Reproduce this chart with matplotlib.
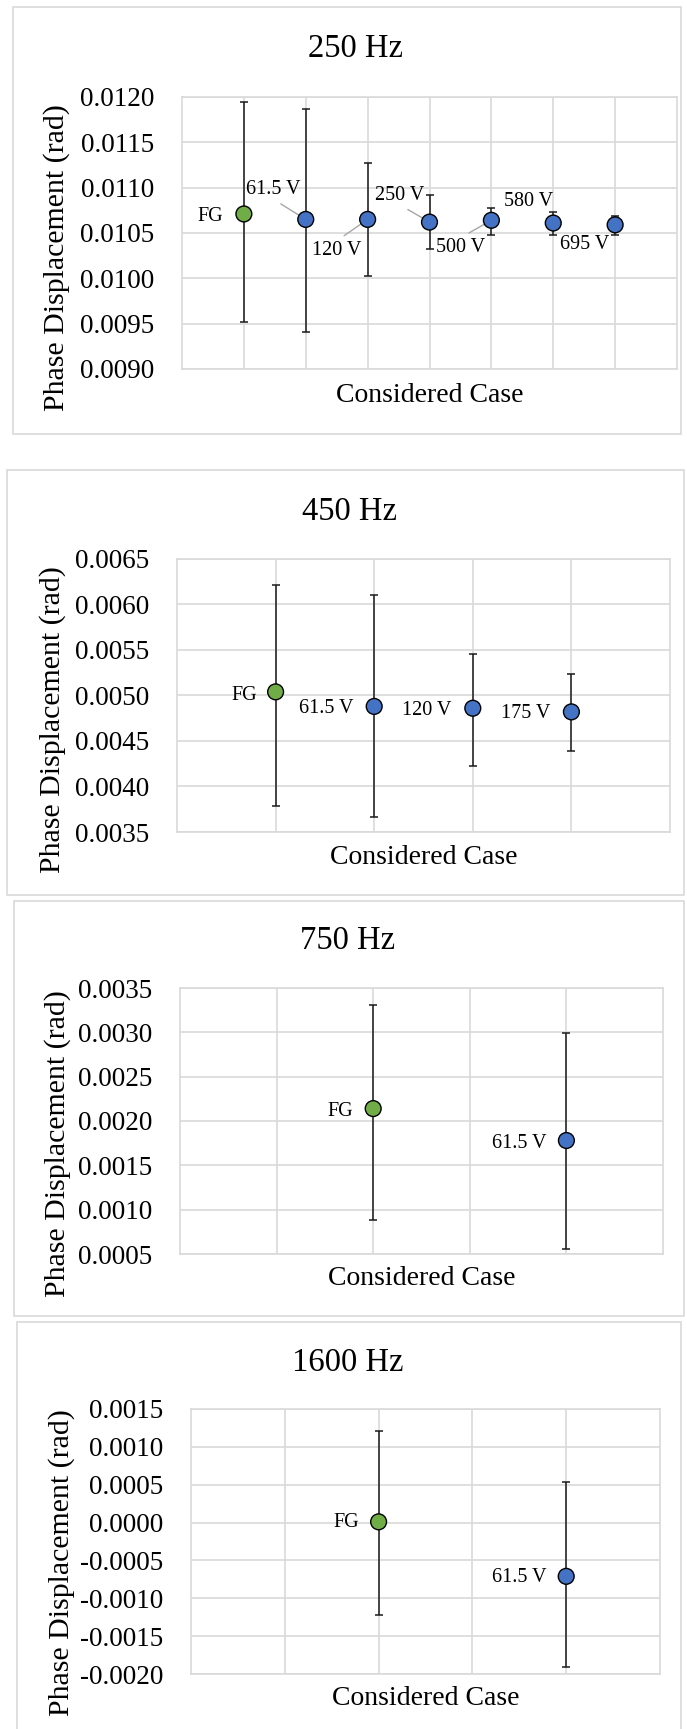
import numpy as np
import matplotlib.pyplot as plt
from matplotlib.patches import Rectangle
from matplotlib.ticker import FuncFormatter, MultipleLocator

plt.rcParams['font.family'] = ['Liberation Serif', 'DejaVu Serif']
plt.rcParams['axes.unicode_minus'] = False

C_GREEN = '#70AD47'
C_BLUE = '#4472C4'
C_GRID = '#D9D9D9'
C_LEADER = '#A6A6A6'

W, H = 687, 1729

# ===== 数据 =====
# 250 Hz
labels_250 = ['FG', '61.5 V', '120 V', '250 V', '500 V', '580 V', '695 V']
mean_250 = [0.01071, 0.01065, 0.01065, 0.01062, 0.01064, 0.01061, 0.01059]
upper_250 = [0.01194, 0.01187, 0.01127, 0.01092, 0.01078, 0.01073, 0.01069]
lower_250 = [0.00952, 0.00941, 0.01003, 0.01032, 0.01048, 0.01048, 0.01048]

# 450 Hz
labels_450 = ['FG', '61.5 V', '120 V', '175 V']
mean_450 = [0.00504, 0.00488, 0.00486, 0.00482]
upper_450 = [0.00621, 0.00610, 0.00546, 0.00524]
lower_450 = [0.00379, 0.00367, 0.00422, 0.00439]

# 750 Hz
labels_750 = ['FG', '61.5 V']
mean_750 = [0.00214, 0.00178]
upper_750 = [0.00331, 0.00299]
lower_750 = [0.00088, 0.00056]

# 1600 Hz
labels_1600 = ['FG', '61.5 V']
mean_1600 = [0.00001, -0.00071]
upper_1600 = [0.00121, 0.00053]
lower_1600 = [-0.00122, -0.00191]


def fx(x):
    return x / W


def fy(y):
    return 1 - y / H


fig = plt.figure(figsize=(W / 100, H / 100), dpi=100)

# 每个面板的版式（像素）
panels = [
    dict(title='250 Hz', labels=labels_250, mean=mean_250, up=upper_250, lo=lower_250,
         xs=list(range(1, 8)), xmax=8, ylim=(0.0090, 0.0120), step=0.0005,
         box=(13, 7, 681, 434), ax=(182, 97, 677, 369),
         title_xy=(355, 57), xlab_y=402, ylab_xy=(57, 258),
         # (dx, dy, ha, va, leader relpos or None)
         lab=[(-21, -3, 'right', 'center', None),
              (-33, 30, 'center', 'center', (0.5, 0)),
              (-31, -31, 'center', 'center', (0.5, 1)),
              (-30, 27, 'center', 'center', (0.5, 0)),
              (-31, -27, 'center', 'center', (0.5, 1)),
              (-25, 22, 'center', 'center', None),
              (-31, -20, 'center', 'center', None)]),
    dict(title='450 Hz', labels=labels_450, mean=mean_450, up=upper_450, lo=lower_450,
         xs=[1, 2, 3, 4], xmax=5, ylim=(0.0035, 0.0065), step=0.0005,
         box=(7, 470, 684, 895), ax=(177, 559, 670, 832),
         title_xy=(349, 520), xlab_y=864, ylab_xy=(53, 720),
         lab=[(-19, -4, 'right', 'center', None)] + [(-21, -2, 'right', 'center', None)] * 3),
    dict(title='750 Hz', labels=labels_750, mean=mean_750, up=upper_750, lo=lower_750,
         xs=[2, 4], xmax=5, ylim=(0.0005, 0.0035), step=0.0005,
         box=(14, 901, 684, 1316), ax=(180, 988, 663, 1254),
         title_xy=(348, 949), xlab_y=1285, ylab_xy=(58, 1144),
         lab=[(-20, -3, 'right', 'center', None)] * 2),
    dict(title='1600 Hz', labels=labels_1600, mean=mean_1600, up=upper_1600, lo=lower_1600,
         xs=[2, 4], xmax=5, ylim=(-0.0020, 0.0015), step=0.0005,
         box=(17, 1322, 681, 1745), ax=(191, 1409, 660, 1674),
         title_xy=(348, 1371), xlab_y=1705, ylab_xy=(62, 1563),
         lab=[(-20, -1, 'right', 'center', None)] * 2),
]


def fmt(v, pos):
    s = f'{v:.4f}'
    return '0.0000' if s == '-0.0000' else s


for p in panels:
    # 外框
    x0, y0, x1, y1 = p['box']
    fig.patches.append(Rectangle((fx(x0), fy(y1)), fx(x1) - fx(x0), fy(y0) - fy(y1),
                                 transform=fig.transFigure, fill=False,
                                 edgecolor=C_GRID, linewidth=1.2))
    a0, b0, a1, b1 = p['ax']
    ax = fig.add_axes([fx(a0), fy(b1), fx(a1) - fx(a0), fy(b0) - fy(b1)])
    ax.set_xlim(0, p['xmax'])
    ax.set_ylim(*p['ylim'])
    ax.set_xticks(range(1, p['xmax']))
    ax.yaxis.set_major_locator(MultipleLocator(p['step']))
    ax.yaxis.set_major_formatter(FuncFormatter(fmt))
    ax.tick_params(axis='x', length=0, labelbottom=False)
    ax.tick_params(axis='y', length=0, pad=20, labelsize=19.5, labelcolor='black')
    ax.grid(True, color=C_GRID, linewidth=1.2)
    ax.set_axisbelow(True)
    for sp in ax.spines.values():
        sp.set_color(C_GRID)
        sp.set_linewidth(1.2)

    xs = np.array(p['xs'])
    m = np.array(p['mean'])
    up = np.array(p['up'])
    lo = np.array(p['lo'])
    ax.errorbar(xs, m, yerr=[m - lo, up - m], fmt='none', ecolor='#1a1a1a',
                elinewidth=1.1, capsize=2.8, capthick=1.1, zorder=3)
    colors = [C_GREEN] + [C_BLUE] * (len(xs) - 1)
    ax.scatter(xs, m, s=130, c=colors, edgecolors='black', linewidths=1.0, zorder=5)

    for i, txt in enumerate(p['labels']):
        dx, dy, ha, va, rel = p['lab'][i]
        kw = {}
        if rel is not None:
            kw['arrowprops'] = dict(arrowstyle='-', color=C_LEADER, lw=1.0,
                                    relpos=rel, shrinkA=3, shrinkB=0)
        ax.annotate(txt, xy=(xs[i], m[i]), xytext=(dx, dy), textcoords='offset pixels',
                    ha=ha, va=va, fontsize=14.5, zorder=4, **kw)

    fig.text(fx(p['title_xy'][0]), fy(p['title_xy'][1]), p['title'],
             ha='center', va='baseline', fontsize=23.5)
    fig.text(fx((a0 + a1) / 2), fy(p['xlab_y']), 'Considered Case',
             ha='center', va='baseline', fontsize=20)
    fig.text(fx(p['ylab_xy'][0]), fy(p['ylab_xy'][1]), 'Phase Displacement (rad)',
             ha='center', va='center', rotation=90, fontsize=21.5)

fig.savefig('out.png', dpi=100)
